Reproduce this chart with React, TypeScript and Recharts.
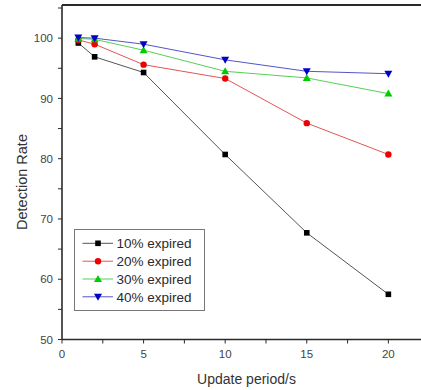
import React from 'react';
import { LineChart, Line, XAxis, YAxis, Legend, Label, ReferenceLine } from 'recharts';

const periods = [1, 2, 5, 10, 15, 20];
const expired10 = [99.2, 96.9, 94.3, 80.7, 67.7, 57.5];
const expired20 = [99.7, 99.0, 95.6, 93.3, 85.9, 80.7];
const expired30 = [99.95, 99.8, 98.0, 94.5, 93.4, 90.8];
const expired40 = [100.1, 100.0, 99.0, 96.4, 94.5, 94.1];
const seriesNames = ['10% expired', '20% expired', '30% expired', '40% expired'];
const xTicks = [0, 2.5, 5, 7.5, 10, 12.5, 15, 17.5, 20];
const yTicks = [50, 55, 60, 65, 70, 75, 80, 85, 90, 95, 100, 105];
const yMax = 105.5;

const data = periods.map((p, i) => ({
  x: p,
  s10: expired10[i],
  s20: expired20[i],
  s30: expired30[i],
  s40: expired40[i],
}));

const FONT = '"Liberation Sans", Arial, sans-serif';

const markerColors = ['#000000', '#ee0000', '#00cc00', '#0000cc'];
const lineColors = ['#555555', '#e25555', '#55d055', '#5555c8'];

function drawMarker(kind: number, cx: number, cy: number, key?: any) {
  const c = markerColors[kind];
  if (kind === 0) return <rect key={key} x={cx - 2.8} y={cy - 2.8} width={5.6} height={5.6} fill={c} />;
  if (kind === 1) return <circle key={key} cx={cx} cy={cy} r={3.2} fill={c} />;
  if (kind === 2)
    return <polygon key={key} points={`${cx},${cy - 4} ${cx - 4},${cy + 3} ${cx + 4},${cy + 3}`} fill={c} />;
  return <polygon key={key} points={`${cx},${cy + 4} ${cx - 4},${cy - 3} ${cx + 4},${cy - 3}`} fill={c} />;
}

const makeDot = (kind: number) => (props: any) => {
  const { cx, cy, index } = props;
  if (cx == null || cy == null) return <g key={index} />;
  return drawMarker(kind, cx, cy, index);
};

const renderLegend = () => {
  const rows = [14.3, 32.2, 50, 67.8];
  return (
    <svg width={131} height={82} style={{ display: 'block' }}>
      <rect x={0.5} y={0.5} width={130} height={81} fill="#fff" stroke="#777" strokeWidth={1} />
      {seriesNames.map((n, i) => (
        <g key={n}>
          <line x1={8.5} x2={39} y1={rows[i]} y2={rows[i]} stroke={lineColors[i]} strokeWidth={1} />
          {drawMarker(i, 24, rows[i])}
          <text x={42.5} y={rows[i]} dy="0.36em" fontFamily={FONT} fontSize={13.5} fill="#2a2a2a">
            {n}
          </text>
        </g>
      ))}
    </svg>
  );
};

const keys = ['s10', 's20', 's30', 's40'];

export default function App() {
  return (
    <div style={{ position: 'absolute', left: 0, top: 0, width: 421, height: 390, background: '#fff' }}>
      <LineChart width={421} height={390} data={data} margin={{ top: 5, right: 0, left: 0, bottom: 0 }}>
        <XAxis
          dataKey="x"
          type="number"
          domain={[0, 22]}
          ticks={xTicks}
          allowDataOverflow
          height={50.5}
          tickSize={4}
          tickMargin={6}
          tickFormatter={(v: number) => (v % 5 === 0 ? String(v) : '')}
          tick={{ fontFamily: FONT, fontSize: 11.5, fill: '#444' }}
          axisLine={{ stroke: '#2a2a2a', strokeWidth: 1.6 }}
          tickLine={{ stroke: '#2a2a2a', strokeWidth: 1 }}
        >
          <Label
            content={(props: any) => {
              const vb = props.viewBox;
              return (
                <text
                  x={vb.x + vb.width / 2 + 5}
                  y={vb.y + 44}
                  textAnchor="middle"
                  fontFamily={FONT}
                  fontSize={14}
                  fill="#333"
                >
                  Update period/s
                </text>
              );
            }}
          />
        </XAxis>
        <YAxis
          type="number"
          domain={[50, yMax]}
          ticks={yTicks}
          allowDataOverflow
          width={62}
          tickSize={4}
          tickMargin={5}
          tickFormatter={(v: number) => (v % 10 === 0 ? String(v) : '')}
          tick={{ fontFamily: FONT, fontSize: 11.5, fill: '#444' }}
          axisLine={{ stroke: '#2a2a2a', strokeWidth: 1.6 }}
          tickLine={{ stroke: '#2a2a2a', strokeWidth: 1 }}
        >
          <Label
            content={() => (
              <text
                x={21.5}
                y={182}
                textAnchor="middle"
                dominantBaseline="central"
                transform="rotate(-90, 21.5, 182)"
                fontFamily={FONT}
                fontSize={14.5}
                fill="#333"
              >
                Detection Rate
              </text>
            )}
          />
        </YAxis>
        <ReferenceLine y={yMax} stroke="#2a2a2a" strokeWidth={2} ifOverflow="visible" />
        <Legend
          layout="horizontal"
          verticalAlign="middle"
          align="center"
          wrapperStyle={{ left: 74, top: 229, width: 131, height: 82 }}
          content={renderLegend}
        />
        {keys.map((k, i) => (
          <Line
            key={k}
            dataKey={k}
            name={seriesNames[i]}
            type="linear"
            stroke={lineColors[i]}
            strokeWidth={1}
            dot={makeDot(i)}
            activeDot={false}
            isAnimationActive={false}
          />
        ))}
      </LineChart>
    </div>
  );
}
